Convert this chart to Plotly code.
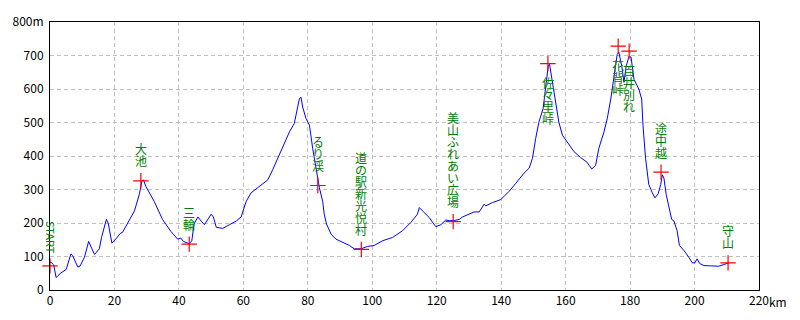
import plotly.graph_objects as go

# ---- profile data (km, elevation m) ----
dist_km = [0, 0.3, 1.15, 1.9, 3.4, 5.0, 6.5, 7.0, 8.6, 9.3, 10.7, 12.0, 13.8, 15.3, 16.0, 17.5, 18.1, 19.2,
           20.4, 21.8, 22.5, 24.1, 26.2, 27.7, 28.5, 29.0, 29.7, 32.3, 34.9, 37.5, 39.6, 40.6, 41.4, 43.2,
           44.0, 44.7, 45.9, 46.9, 47.9, 50.0, 50.7, 51.6, 53.6, 55.7, 57.8, 59.3, 60.9, 62.4, 65.0, 67.6,
           69.1, 71.2, 72.7, 74.3, 75.8, 76.3, 77.4, 77.9, 78.4, 79.4, 80.5, 81.5, 82.6, 83.6, 84.6, 85.1,
           85.8, 87.2, 88.7, 90.8, 92.9, 94.4, 96.5, 98.5, 100.6, 103.2, 106.3, 109.4, 112.0, 114.0, 114.6,
           115.6, 117.7, 119.7, 121.3, 122.8, 123.9, 125.4, 127.0, 128.0, 130.1, 131.6, 133.2, 134.7, 135.2,
           137.3, 139.9, 142.5, 144.5, 147.1, 148.7, 149.7, 150.7, 151.7, 153.0, 153.8, 154.6, 155.0, 155.9,
           156.9, 157.9, 159.0, 160.5, 162.6, 164.7, 166.7, 167.3, 168.1, 169.3, 170.3, 171.9, 172.9, 174.0,
           175.0, 176.0, 176.5, 177.4, 178.1, 178.8, 179.7, 180.3, 181.2, 182.7, 183.6, 184.0, 184.8, 185.8,
           186.9, 187.7, 188.7, 189.5, 190.0, 190.5, 191.2, 192.0, 192.9, 193.6, 194.6, 195.3, 196.7, 198.2,
           199.3, 200.1, 200.8, 201.6, 202.9, 205.0, 207.5, 209.1, 210.6]
elev_m = [82, 83, 75, 37, 51, 61, 108, 103, 69, 71, 98, 145, 106, 123, 157, 211, 198, 140,
          152, 169, 172, 199, 236, 285, 324, 329, 310, 265, 211, 175, 152, 155, 145, 138,
          147, 197, 218, 206, 195, 226, 218, 187, 184, 195, 206, 218, 265, 290, 310, 329,
          359, 403, 437, 472, 497, 521, 572, 575, 546, 513, 492, 423, 364, 305, 265, 226,
          197, 167, 152, 143, 133, 123, 123, 130, 133, 147, 157, 177, 202, 226, 246,
          236, 216, 189, 195, 209, 207, 207, 211, 218, 226, 233, 233, 256, 251,
          261, 270, 295, 318, 349, 364, 393, 452, 501, 541, 609, 669, 674, 620,
          561, 501, 462, 443, 413, 395, 381, 372, 361, 372, 423, 472, 511, 570,
          639, 703, 710, 669, 620, 669, 698, 695, 629, 600, 570, 492, 393, 315,
          290, 275, 287, 315, 344, 334, 285, 246, 211, 206, 177, 133, 118, 98,
          81, 81, 93, 79, 73, 72, 71, 76, 81]

# ---- checkpoints ----
cp_names = ["START", "大池", "三輪", "るり渓", "道の駅新光悦村", "美山ふれあい広場",
            "佐々里峠", "花背峠", "百井別れ", "途中越", "守山"]
cp_km = [0, 28.2, 43.2, 83.1, 96.6, 125.1, 154.5, 176.3, 179.7, 189.6, 210.4]
cp_m = [72, 326, 137, 312, 121, 204, 676, 728, 713, 352, 81]

x_ticks = [0, 20, 40, 60, 80, 100, 120, 140, 160, 180, 200, 220]
x_ticktext = ["0", "20", "40", "60", "80", "100", "120", "140", "160", "180", "200", "220"]
y_ticks = [0, 100, 200, 300, 400, 500, 600, 700, 800]
y_ticktext = ["0", "100", "200", "300", "400", "500", "600", "700", "800m"]

TICK_FONT = dict(family="Noto Sans CJK JP", size=12, color="black")
LABEL_FONT = dict(family="Noto Sans CJK JP", size=12, color="#008000")

fig = go.Figure()
fig.add_trace(go.Scatter(x=dist_km, y=elev_m, mode="lines",
                         line=dict(color="#0000ff", width=1), hoverinfo="skip"))
fig.add_trace(go.Scatter(x=cp_km, y=cp_m, mode="markers", cliponaxis=False,
                         marker=dict(symbol="cross-thin", size=11,
                                     line=dict(color="#ff0000", width=1.2)),
                         hoverinfo="skip"))

annotations = []
plot_h = 320 - 19 - 30
px_per_m = plot_h / 800.0
STEP = 12
for name, xk, ym in zip(cp_names, cp_km, cp_m):
    if name.isascii():
        annotations.append(dict(x=xk, y=ym, xref="x", yref="y", text=name, showarrow=False,
                                textangle=90, font=dict(LABEL_FONT, size=11),
                                yshift=29, xshift=1))
        continue
    n = len(name)
    need = 20 + (n - 1) * STEP + 8
    top_room = (800 - ym) * px_per_m
    above = need <= top_room
    for i, ch in enumerate(name):
        ys = 20 + (n - 1 - i) * STEP if above else -(19 + i * STEP)
        annotations.append(dict(x=xk, y=ym, xref="x", yref="y", text=ch, showarrow=False,
                                font=LABEL_FONT, borderpad=0, yshift=ys))

# "km" unit after the last x tick label
annotations.append(dict(x=220, y=0, xref="x", yref="y", text="km", showarrow=False,
                        font=TICK_FONT, xanchor="left", yanchor="middle", xshift=8, yshift=-11))

grid = dict(showgrid=True, gridcolor="#c0c0c0", gridwidth=1, griddash="4px,3px",
            showline=True, linecolor="black", linewidth=1, mirror=True,
            zeroline=False, ticks="", tickfont=TICK_FONT)

fig.update_layout(
    width=800, height=320,
    margin=dict(l=50, r=41, t=19, b=30),
    paper_bgcolor="white", plot_bgcolor="white",
    showlegend=False,
    annotations=annotations,
    xaxis=dict(range=[0, 220], tickmode="array", tickvals=x_ticks, ticktext=x_ticktext, **grid),
    yaxis=dict(range=[0, 800], tickmode="array", tickvals=y_ticks, ticktext=y_ticktext,
               ticklabelstandoff=3, **grid),
)

fig.write_html("out.html")
